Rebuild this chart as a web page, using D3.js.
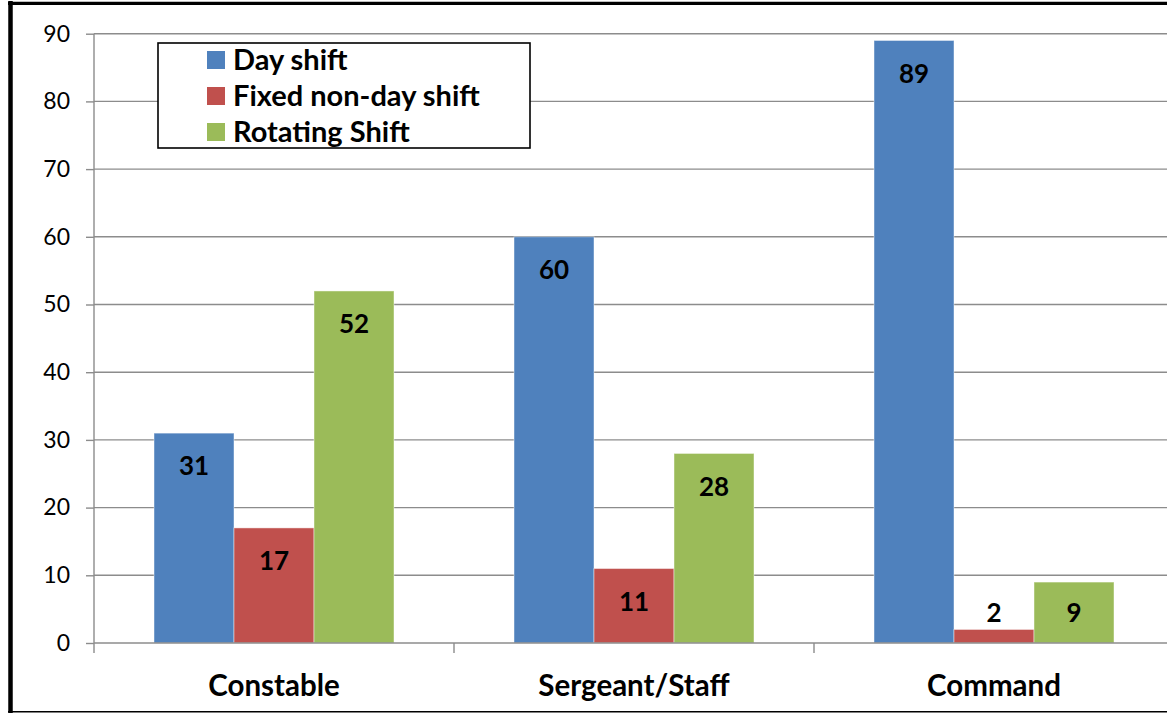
<!DOCTYPE html>
<html>
<head>
<meta charset="utf-8">
<script src="https://cdn.jsdelivr.net/npm/d3@7"></script>
<style>
  body { margin: 0; background: #fff; }
  svg { display: block; font-family: Lato, "Open Sans", sans-serif; }
</style>
</head>
<body>
<svg id="chart" width="1167" height="713"></svg>
<script>
// data
const categories = ["Constable", "Sergeant/Staff", "Command"];
const seriesNames = ["Day shift", "Fixed non-day shift", "Rotating Shift"];
const dayShift = [31, 60, 89];
const fixedNonDay = [17, 11, 2];
const rotating = [52, 28, 9];
const yTicks = [0, 10, 20, 30, 40, 50, 60, 70, 80, 90];
const colors = ["#4F81BD", "#C0504D", "#9BBB59"];

const seriesValues = [dayShift, fixedNonDay, rotating];

const svg = d3.select("#chart");
const W = 1167, H = 713;
const left = 94, zeroY = 643, topY = 33.7;

svg.append("rect").attr("width", W).attr("height", H).attr("fill", "#fff");

const y = d3.scaleLinear().domain([0, 90]).range([zeroY, topY]);
const x0 = d3.scaleBand().domain(categories)
    .range([left, left + 1080])
    .paddingInner(1 / 3).paddingOuter(1 / 6);
const x1 = d3.scaleBand().domain(seriesNames).range([0, x0.bandwidth()]);

// gridlines
svg.append("g").selectAll("line").data(yTicks.filter(d => d > 0)).join("line")
    .attr("x1", left).attr("x2", W)
    .attr("y1", d => y(d)).attr("y2", d => y(d))
    .attr("stroke", "#8c8c8c").attr("stroke-width", 1.4);

// y axis
const yAxis = svg.append("g").attr("transform", `translate(${left},0)`)
    .call(d3.axisLeft(y).tickValues(yTicks).tickSize(8).tickPadding(16));
yAxis.select(".domain").remove();
yAxis.append("line").attr("x1", 0).attr("x2", 0)
    .attr("y1", topY).attr("y2", zeroY + 10)
    .attr("stroke", "#8c8c8c").attr("stroke-width", 1.4);
yAxis.selectAll(".tick line").attr("stroke", "#8c8c8c").attr("stroke-width", 1.4);
yAxis.selectAll(".tick text").attr("fill", "#000")
    .style("font-size", "23px").style("font-family", "Lato, sans-serif");

// bars
const rows = categories.map((c, i) => ({
  cat: c,
  vals: seriesNames.map((s, j) => ({ s, j, v: seriesValues[j][i] }))
}));

const groups = svg.append("g").selectAll("g").data(rows).join("g")
    .attr("transform", d => `translate(${x0(d.cat)},0)`);

groups.selectAll("rect").data(d => d.vals).join("rect")
    .attr("x", d => x1(d.s))
    .attr("y", d => y(d.v))
    .attr("width", x1.bandwidth())
    .attr("height", d => zeroY - y(d.v))
    .attr("fill", d => colors[d.j])
    .attr("stroke", "rgba(255,255,255,0.45)").attr("stroke-width", 1);

groups.selectAll("text").data(d => d.vals).join("text")
    .attr("x", d => x1(d.s) + x1.bandwidth() / 2)
    .attr("y", d => Math.min(y(d.v) + 33, zeroY - 30))
    .attr("dy", "0.36em")
    .attr("text-anchor", "middle")
    .style("font-size", "26px").style("font-weight", "bold")
    .text(d => d.v);

// x axis
svg.append("line").attr("x1", left).attr("x2", W)
    .attr("y1", zeroY).attr("y2", zeroY)
    .attr("stroke", "#8c8c8c").attr("stroke-width", 1.4);
svg.append("g").selectAll("line").data(categories.slice(1)).join("line")
    .attr("x1", d => x0(d) - x0.step() * x0.paddingInner() / 2)
    .attr("x2", d => x0(d) - x0.step() * x0.paddingInner() / 2)
    .attr("y1", zeroY).attr("y2", zeroY + 10)
    .attr("stroke", "#8c8c8c").attr("stroke-width", 1.4);
svg.append("g").selectAll("text").data(categories).join("text")
    .attr("x", d => x0(d) + x0.bandwidth() / 2)
    .attr("y", 685).attr("dy", "0.36em")
    .attr("text-anchor", "middle")
    .style("font-size", "29.5px").style("font-weight", "bold")
    .text(d => d);

// legend
const lg = svg.append("g");
lg.append("rect").attr("x", 158).attr("y", 43).attr("width", 372).attr("height", 105)
    .attr("fill", "#fff").attr("stroke", "#000").attr("stroke-width", 1.6);
const item = lg.selectAll("g").data(seriesNames).join("g")
    .attr("transform", (d, i) => `translate(207,${60 + i * 36})`);
item.append("rect").attr("x", 0).attr("y", -9).attr("width", 18).attr("height", 18)
    .attr("fill", (d, i) => colors[i]);
item.append("text").attr("x", 26).attr("dy", "0.36em")
    .style("font-size", "29px").style("font-weight", "bold")
    .text(d => d);

// outer frame
svg.append("line").attr("x1", 10.5).attr("x2", 10.5).attr("y1", 1).attr("y2", 713)
    .attr("stroke", "#000").attr("stroke-width", 4.5);
svg.append("line").attr("x1", 8).attr("x2", W).attr("y1", 3.4).attr("y2", 3.4)
    .attr("stroke", "#000").attr("stroke-width", 3.2);
svg.append("line").attr("x1", 8).attr("x2", W).attr("y1", 711.8).attr("y2", 711.8)
    .attr("stroke", "#000").attr("stroke-width", 1.6);
</script>
</body>
</html>
